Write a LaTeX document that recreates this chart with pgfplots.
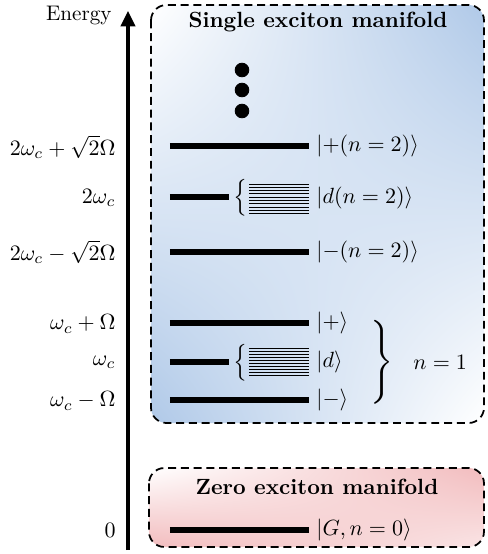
\documentclass[border=0pt]{standalone}
\usepackage{pgfplots}
\usepackage{graphicx}
\pgfplotsset{compat=1.18}
\usetikzlibrary{arrows.meta,shadings}
\definecolor{boxblue}{RGB}{176,201,232}
\definecolor{boxred}{RGB}{242,188,190}
\begin{document}
\begin{tikzpicture}
\begin{axis}[
  width=221.36pt, height=251.82pt, scale only axis,
  xmin=0, xmax=487, ymin=0, ymax=554, y dir=reverse,
  hide axis, clip=false,
]
\path (axis cs:0,0) (axis cs:487,554);
% boxes
\path[draw=black, line width=0.8pt, dash pattern=on 3.6pt off 2.2pt, rounded corners=7pt,
  upper left=white, upper right=boxblue, lower left=boxblue, lower right=white]
  (axis cs:151,5) rectangle (axis cs:484,423);
\path[draw=black, line width=0.8pt, dash pattern=on 3.6pt off 2.2pt, rounded corners=7pt,
  upper left=white, upper right=boxred, lower left=boxred, lower right=white!60!boxred]
  (axis cs:149,468) rectangle (axis cs:484,547);
% energy axis
\draw[line width=1.4pt, -{Stealth[length=7pt, width=6.5pt, inset=0pt]}] (axis cs:128,550) -- (axis cs:128,11);
\node[anchor=east, inner sep=0pt, font=\fontsize{9.6}{11}\selectfont] at (axis cs:112,15) {Energy};
% titles
\node[font=\bfseries] at (axis cs:318,22) {Single exciton manifold};
\node[font=\bfseries] at (axis cs:317,487) {Zero exciton manifold};
% levels
\addplot[black, line width=2.4pt] coordinates {(170,146) (309,146)};
\addplot[black, line width=2.4pt] coordinates {(170,197) (229,197)};
\addplot[black, line width=2.4pt] coordinates {(170,252) (309,252)};
\addplot[black, line width=2.4pt] coordinates {(170,323) (309,323)};
\addplot[black, line width=2.4pt] coordinates {(170,362) (229,362)};
\addplot[black, line width=2.4pt] coordinates {(170,400) (309,400)};
\addplot[black, line width=2.4pt] coordinates {(170,530) (309,530)};
% dark-state stacks
\pgfplotsinvokeforeach{184,187.3,190.6,193.9,197.2,200.5,203.8,207.1,210.4,213.7}{
  \addplot[black, line width=0.45pt] coordinates {(249,#1) (309,#1)};
}
\pgfplotsinvokeforeach{348,351.1,354.2,357.3,360.4,363.5,366.6,369.7,372.8,375.9}{
  \addplot[black, line width=0.45pt] coordinates {(249,#1) (309,#1)};
}
% dots
\addplot[only marks, mark=*, mark size=3.1pt, black] coordinates {(242,70) (242,90) (242,111)};
% braces
\node[inner sep=0pt] at (axis cs:241,198) {\scalebox{1.1}[1.4]{$\bigl\{$}};
\node[inner sep=0pt] at (axis cs:241,363) {\scalebox{1.1}[1.4]{$\bigl\{$}};
\node[inner sep=0pt] at (axis cs:382,362) {\scalebox{1.3}[1.27]{$\Bigg\}$}};
\node[anchor=west, inner sep=0pt] at (axis cs:413,362) {$n=1$};
% kets
\node[anchor=west, inner sep=0pt] at (axis cs:316,146) {$|{+}(n=2)\rangle$};
\node[anchor=west, inner sep=0pt] at (axis cs:316,198) {$|d(n=2)\rangle$};
\node[anchor=west, inner sep=0pt] at (axis cs:316,252) {$|{-}(n=2)\rangle$};
\node[anchor=west, inner sep=0pt] at (axis cs:316,323) {$|{+}\rangle$};
\node[anchor=west, inner sep=0pt] at (axis cs:316,362) {$|d\rangle$};
\node[anchor=west, inner sep=0pt] at (axis cs:316,400) {$|{-}\rangle$};
\node[anchor=west, inner sep=0pt] at (axis cs:316,530) {$|G,n=0\rangle$};
% energy labels
\node[anchor=east, inner sep=0pt] at (axis cs:116,147) {$2\omega_c+\sqrt{2}\Omega$};
\node[anchor=east, inner sep=0pt] at (axis cs:116,198) {$2\omega_c$};
\node[anchor=east, inner sep=0pt] at (axis cs:116,252) {$2\omega_c-\sqrt{2}\Omega$};
\node[anchor=east, inner sep=0pt] at (axis cs:116,324) {$\omega_c+\Omega$};
\node[anchor=east, inner sep=0pt] at (axis cs:116,362) {$\omega_c$};
\node[anchor=east, inner sep=0pt] at (axis cs:116,401) {$\omega_c-\Omega$};
\node[anchor=east, inner sep=0pt] at (axis cs:116,530) {$0$};
\end{axis}
\end{tikzpicture}
\end{document}
